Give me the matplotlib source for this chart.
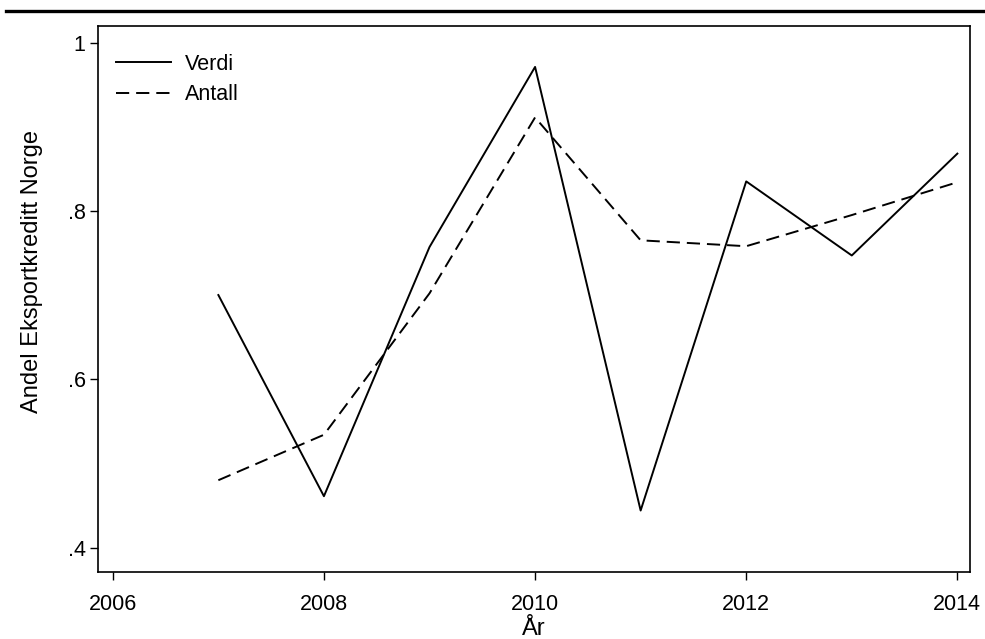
import matplotlib.pyplot as plt
from matplotlib.lines import Line2D

plt.rcParams['font.family'] = ['Liberation Sans', 'DejaVu Sans']
plt.rcParams['lines.scale_dashes'] = False

years = [2007, 2008, 2009, 2010, 2011, 2012, 2013, 2014]
verdi = [0.700, 0.461, 0.757, 0.971, 0.444, 0.835, 0.747, 0.868]
antall = [0.480, 0.534, 0.702, 0.911, 0.765, 0.758, 0.795, 0.834]

xticks = [2006, 2008, 2010, 2012, 2014]
yticks = [0.4, 0.6, 0.8, 1.0]
ylabels = ['.4', '.6', '.8', '1']

fig = plt.figure(figsize=(9.85, 6.39), dpi=100)
ax = fig.add_axes([0.0995, 0.1049, 0.8853, 0.8544])

ax.plot(years, verdi, color='black', lw=1.4, label='Verdi')
ax.plot(years, antall, color='black', lw=1.4, dashes=(9.5, 5.0), label='Antall')

ax.set_xlim(2005.86, 2014.12)
ax.set_ylim(0.371, 1.0196)
ax.set_xticks(xticks)
ax.set_yticks(yticks)
ax.set_yticklabels(ylabels)
ax.tick_params(direction='out', length=6, width=1, labelsize=15.5, colors='black')
ax.tick_params(axis='x', pad=10)
ax.tick_params(axis='y', pad=3)
for s in ax.spines.values():
    s.set_linewidth(1.2)

ax.set_xlabel('År', fontsize=17, labelpad=2)
ax.set_ylabel('Andel Eksportkreditt Norge', fontsize=17)
ax.yaxis.set_label_coords(-0.063, 0.55)

ax.legend(loc='upper left', bbox_to_anchor=(0.0206, 0.949), frameon=False,
          fontsize=15.5, handlelength=2.56, handletextpad=0.65,
          borderaxespad=0, borderpad=0, labelspacing=0.44)

# thick rule at the top of the page
fig.add_artist(Line2D([0.006, 1.0], [0.9823, 0.9823], color='black', lw=2.4,
                      transform=fig.transFigure))

fig.savefig('out.png', dpi=100)
plt.close(fig)
